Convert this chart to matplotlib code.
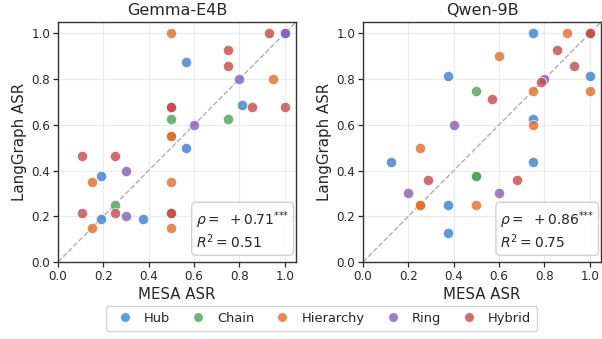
import matplotlib
matplotlib.use("Agg")
import matplotlib.pyplot as plt
from matplotlib.lines import Line2D

topologies = ["Hub", "Chain", "Hierarchy", "Ring", "Hybrid"]
colors = ["#3b7fcc", "#4e9f5a", "#dd6f2a", "#8360b0", "#c04a4a"]

# Gemma-E4B: (MESA ASR, LangGraph ASR) per topology
gemma_hub_x = [0.5625, 0.8125, 0.5625, 0.1875, 0.1875, 0.375]
gemma_hub_y = [0.875, 0.6875, 0.5, 0.375, 0.1875, 0.1875]
gemma_chain_x = [0.5, 0.75, 0.25]
gemma_chain_y = [0.625, 0.625, 0.25]
gemma_hier_x = [0.5, 0.95, 0.5, 0.5, 0.15, 0.5, 0.15, 0.5]
gemma_hier_y = [1.0, 0.8, 0.55, 0.55, 0.35, 0.35, 0.15, 0.15]
gemma_ring_x = [1.0, 1.0, 0.8, 0.6, 0.3, 0.3]
gemma_ring_y = [1.0, 1.0, 0.8, 0.6, 0.4, 0.2]
gemma_hyb_x = [0.929, 0.75, 0.75, 0.857, 1.0, 0.5, 0.5, 0.107, 0.25, 0.107, 0.25, 0.5, 0.5]
gemma_hyb_y = [1.0, 0.929, 0.857, 0.679, 0.679, 0.679, 0.679, 0.464, 0.464, 0.214, 0.214, 0.214, 0.214]

# Qwen-9B
qwen_hub_x = [0.75, 0.375, 1.0, 0.75, 0.125, 0.75, 0.375, 0.375]
qwen_hub_y = [1.0, 0.8125, 0.8125, 0.625, 0.4375, 0.4375, 0.25, 0.125]
qwen_chain_x = [0.5, 0.5, 0.5]
qwen_chain_y = [0.75, 0.375, 0.375]
qwen_hier_x = [0.9, 0.6, 0.75, 1.0, 0.75, 0.25, 0.25, 0.25, 0.5]
qwen_hier_y = [1.0, 0.9, 0.75, 0.75, 0.6, 0.5, 0.25, 0.25, 0.25]
qwen_ring_x = [0.8, 0.4, 0.2, 0.6]
qwen_ring_y = [0.8, 0.6, 0.3, 0.3]
qwen_hyb_x = [1.0, 1.0, 0.857, 0.929, 0.786, 0.571, 0.286, 0.68]
qwen_hyb_y = [1.0, 1.0, 0.929, 0.857, 0.786, 0.714, 0.357, 0.357]

titles = ["Gemma-E4B", "Qwen-9B"]
rhos = ["0.71", "0.86"]
r2s = ["0.51", "0.75"]

panels = [
    [(gemma_hub_x, gemma_hub_y), (gemma_chain_x, gemma_chain_y), (gemma_hier_x, gemma_hier_y),
     (gemma_ring_x, gemma_ring_y), (gemma_hyb_x, gemma_hyb_y)],
    [(qwen_hub_x, qwen_hub_y), (qwen_chain_x, qwen_chain_y), (qwen_hier_x, qwen_hier_y),
     (qwen_ring_x, qwen_ring_y), (qwen_hyb_x, qwen_hyb_y)],
]

txt = "#262626"
plt.rcParams.update({
    "font.family": "DejaVu Sans",
    "text.color": txt,
    "axes.labelcolor": txt,
    "xtick.color": txt,
    "ytick.color": txt,
    "axes.edgecolor": "#333333",
    "mathtext.fontset": "dejavusans",
})

W, H = 602, 339
fig = plt.figure(figsize=(W / 100, H / 100), dpi=100)
lefts = [58, 363]
axes = []
for i, left in enumerate(lefts):
    ax = fig.add_axes([left / W, (H - 262) / H, 238 / W, 240 / H])
    axes.append(ax)
    ax.set_axisbelow(True)
    ax.grid(True, color="#ebebeb", linewidth=0.8)
    ax.axline((0, 0), slope=1, color="#b0b0b0", linestyle="--", linewidth=1.0, zorder=1)
    for (xs, ys), c in zip(panels[i], colors):
        ax.scatter(xs, ys, s=55, color=c, alpha=0.8, edgecolor="white", linewidth=0.6, zorder=3)
    ax.set_xlim(0, 1.05)
    ax.set_ylim(0, 1.05)
    ax.set_xticks([0.0, 0.2, 0.4, 0.6, 0.8, 1.0])
    ax.set_yticks([0.0, 0.2, 0.4, 0.6, 0.8, 1.0])
    ax.tick_params(labelsize=8.6, length=3.5, width=0.9, pad=2)
    for sp in ax.spines.values():
        sp.set_linewidth(1.0)
    ax.set_title(titles[i], fontsize=11.5, pad=5)
    ax.set_xlabel("MESA ASR", fontsize=10.8, labelpad=3)
    ax.set_ylabel("LangGraph ASR", fontsize=10.8, labelpad=3)
    ax.text(0.972, 0.045,
            r"$\rho =\ +" + rhos[i] + r"^{{*}{*}{*}}$" + "\n" + r"$R^2 = " + r2s[i] + "$",
            transform=ax.transAxes, ha="right", va="bottom", multialignment="left",
            fontsize=10, linespacing=1.1, zorder=5,
            bbox=dict(boxstyle="round,pad=0.3", facecolor="white", edgecolor="#cccccc",
                      alpha=0.9, linewidth=1.0))

handles = [Line2D([], [], marker="o", linestyle="", markersize=7, markerfacecolor=c,
                  markeredgecolor="white", markeredgewidth=0.6, alpha=0.8, label=t)
           for t, c in zip(topologies, colors)]
fig.legend(handles=handles, loc="lower center", bbox_to_anchor=(0.534, 0.005), ncol=5,
           fontsize=9.4, frameon=True, edgecolor="#cccccc", handletextpad=0.46,
           columnspacing=1.15, borderpad=0.45, handlelength=2.0)

fig.savefig("out.png", dpi=100)
